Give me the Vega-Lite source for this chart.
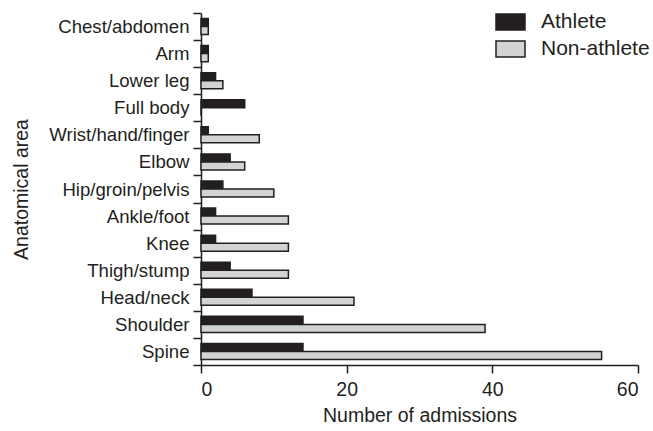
{
  "$schema": "https://vega.github.io/schema/vega-lite/v6.json",
  "width": 437,
  "height": 352,
  "autosize": {"type": "none"},
  "padding": {"left": 201, "top": 13, "right": 15, "bottom": 66},
  "background": "white",
  "config": {"view": {"stroke": null}, "font": "Liberation Sans"},
  "data": {
    "values": [
      {"area": "Chest/abdomen", "group": "Athlete", "admissions": 1},
      {"area": "Chest/abdomen", "group": "Non-athlete", "admissions": 1},
      {"area": "Arm", "group": "Athlete", "admissions": 1},
      {"area": "Arm", "group": "Non-athlete", "admissions": 1},
      {"area": "Lower leg", "group": "Athlete", "admissions": 2},
      {"area": "Lower leg", "group": "Non-athlete", "admissions": 3},
      {"area": "Full body", "group": "Athlete", "admissions": 6},
      {"area": "Full body", "group": "Non-athlete", "admissions": 0},
      {"area": "Wrist/hand/finger", "group": "Athlete", "admissions": 1},
      {"area": "Wrist/hand/finger", "group": "Non-athlete", "admissions": 8},
      {"area": "Elbow", "group": "Athlete", "admissions": 4},
      {"area": "Elbow", "group": "Non-athlete", "admissions": 6},
      {"area": "Hip/groin/pelvis", "group": "Athlete", "admissions": 3},
      {"area": "Hip/groin/pelvis", "group": "Non-athlete", "admissions": 10},
      {"area": "Ankle/foot", "group": "Athlete", "admissions": 2},
      {"area": "Ankle/foot", "group": "Non-athlete", "admissions": 12},
      {"area": "Knee", "group": "Athlete", "admissions": 2},
      {"area": "Knee", "group": "Non-athlete", "admissions": 12},
      {"area": "Thigh/stump", "group": "Athlete", "admissions": 4},
      {"area": "Thigh/stump", "group": "Non-athlete", "admissions": 12},
      {"area": "Head/neck", "group": "Athlete", "admissions": 7},
      {"area": "Head/neck", "group": "Non-athlete", "admissions": 21},
      {"area": "Shoulder", "group": "Athlete", "admissions": 14},
      {"area": "Shoulder", "group": "Non-athlete", "admissions": 39},
      {"area": "Spine", "group": "Athlete", "admissions": 14},
      {"area": "Spine", "group": "Non-athlete", "admissions": 55}
    ]
  },
  "mark": {"type": "bar", "stroke": "#231f20", "strokeWidth": 1.5},
  "encoding": {
    "y": {
      "field": "area",
      "type": "nominal",
      "sort": ["Chest/abdomen", "Arm", "Lower leg", "Full body", "Wrist/hand/finger", "Elbow", "Hip/groin/pelvis", "Ankle/foot", "Knee", "Thigh/stump", "Head/neck", "Shoulder", "Spine"],
      "scale": {"paddingInner": 0, "paddingOuter": 0},
      "axis": {
        "title": "Anatomical area",
        "tickBand": "extent",
        "labelFontSize": 18.6,
        "titleFontSize": 19.5,
        "tickSize": 8,
        "labelPadding": 4,
        "domainColor": "#231f20",
        "tickColor": "#231f20",
        "domainWidth": 1.5,
        "tickWidth": 1.5,
        "labelColor": "#231f20",
        "titleColor": "#231f20",
        "titleFontWeight": "normal",
        "titlePadding": 17
      }
    },
    "yOffset": {
      "field": "group",
      "type": "nominal",
      "sort": ["Athlete", "Non-athlete"],
      "scale": {"paddingInner": 0, "paddingOuter": 0.69}
    },
    "x": {
      "field": "admissions",
      "type": "quantitative",
      "scale": {"domain": [0, 60], "nice": false},
      "axis": {
        "values": [0, 20, 40, 60],
        "grid": false,
        "title": "Number of admissions",
        "labelFontSize": 19.5,
        "titleFontSize": 19.5,
        "tickSize": 8,
        "labelPadding": 7,
        "domainColor": "#231f20",
        "tickColor": "#231f20",
        "domainWidth": 1.5,
        "tickWidth": 1.5,
        "labelColor": "#231f20",
        "titleColor": "#231f20",
        "titleFontWeight": "normal",
        "titlePadding": 8
      }
    },
    "color": {
      "field": "group",
      "type": "nominal",
      "scale": {"domain": ["Athlete", "Non-athlete"], "range": ["#231f20", "#d1d3d4"]},
      "legend": {
        "title": null,
        "orient": "none",
        "legendX": 294,
        "legendY": -6.5,
        "symbolType": "M-1,-0.55L1,-0.55L1,0.55L-1,0.55Z",
        "symbolSize": 841,
        "symbolStrokeColor": "#231f20",
        "symbolStrokeWidth": 1.5,
        "symbolOpacity": 1,
        "labelFontSize": 21,
        "labelOffset": 15,
        "rowPadding": -5,
        "labelColor": "#231f20"
      }
    }
  }
}
